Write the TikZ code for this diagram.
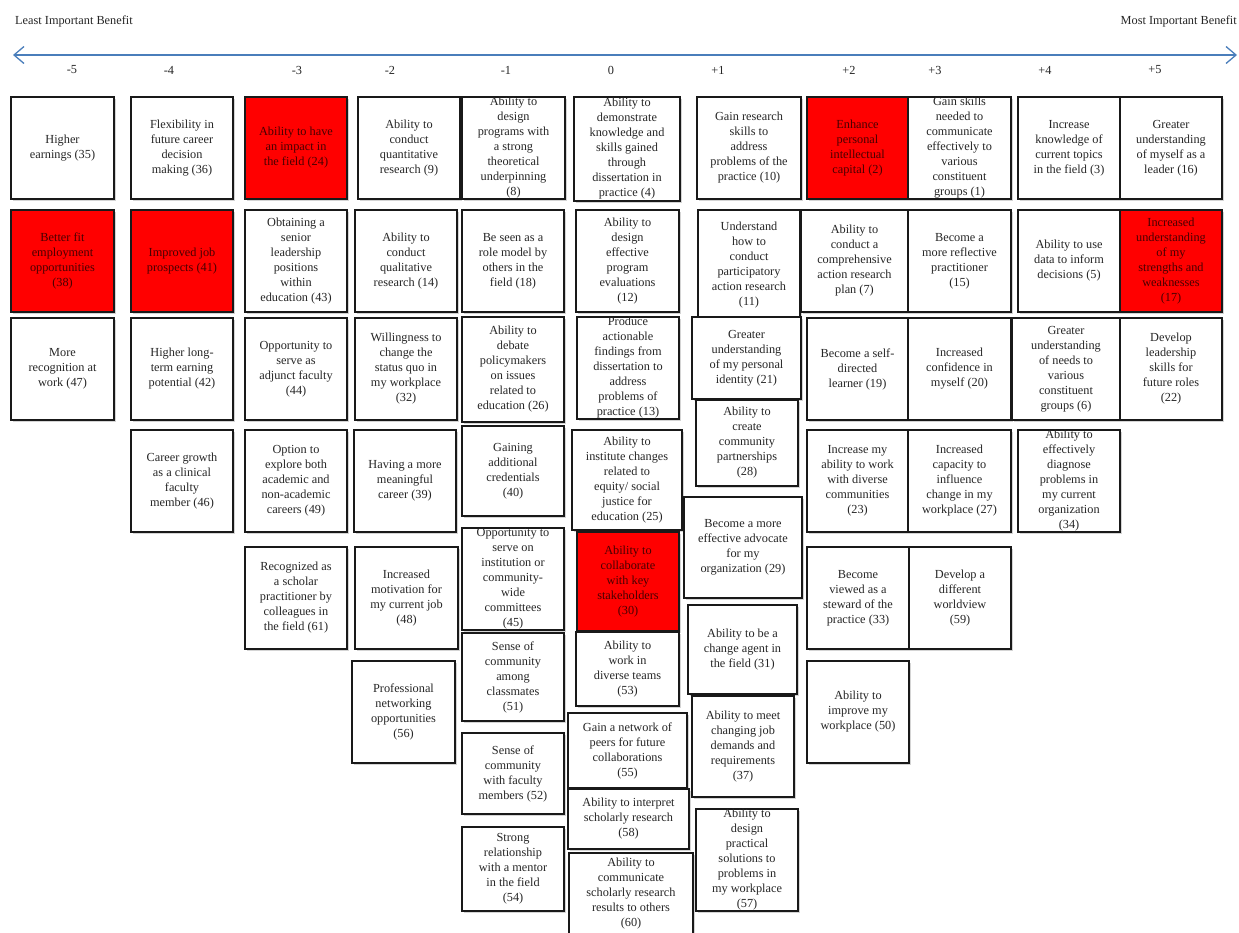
\documentclass[tikz,border=0pt]{standalone}
\usepackage{fontspec}
\setmainfont{Liberation Serif}
\usetikzlibrary{arrows.meta,shadows}

\definecolor{axisblue}{RGB}{74,126,187}
\definecolor{hotred}{RGB}{255,0,0}
\definecolor{deepred}{RGB}{72,0,0}

\tikzset{
  card/.style={draw=black!90, line width=1.2pt, inner sep=0pt, align=center,
    font=\fontsize{12.3}{15}\selectfont, text=black!85,
    drop shadow={shadow xshift=1.6pt, shadow yshift=-1.6pt, opacity=0.28, fill=black!60}},
  plain/.style={card, fill=white},
  hot/.style={card, fill=hotred, text=deepred},
  scalelbl/.style={font=\fontsize{12.3}{15}\selectfont, inner sep=0pt, text=black!85},
  axis/.style={draw=axisblue, line width=1.3pt,
    {Straight Barb[length=10pt,width=17pt,line width=1.3pt]}-{Straight Barb[length=10pt,width=17pt,line width=1.3pt]}}
}

% \card{name}{x1}{y1}{x2}{y2}{style}{text}: one ranked statement, corners in pixel units
\newcommand\card[7]{%
  \node[#6, minimum width={(#4-#2)*1pt}, minimum height={(#5-#3)*1pt}]
    (#1) at ({(#2+#4)/2},{(#3+#5)/2}) {#7};}

\begin{document}
\begin{tikzpicture}[x=1pt,y=-1pt]
\useasboundingbox (0,0) rectangle (1239,932);
\fill[white] (0,0) rectangle (1239,932);

% headings and ranking axis
\node[scalelbl, anchor=west] (least) at (15,21) {Least Important Benefit};
\node[scalelbl, anchor=east] (most) at (1237,21) {Most Important Benefit};
\coordinate (axL) at (13,55);
\coordinate (axR) at (1237,55);
\draw[axis] (axL) -- (axR);

\foreach \v/\x in {-5/72,-4/169,-3/297,-2/390,-1/506,0/611,+1/718,+2/849,+3/935,+4/1045,+5/1155}
  \node[scalelbl] (rank\v) at (\x,70) {\v};

\begin{scope}
% column -5
\card{s35}{11}{97}{114}{199}{plain}{Higher\\earnings (35)}
\card{s38}{11}{210}{114}{312}{hot}{Better fit\\employment\\opportunities\\(38)}
\card{s47}{11}{318}{114}{420}{plain}{More\\recognition at\\work (47)}
% column -4
\card{s36}{131}{97}{233}{199}{plain}{Flexibility in\\future career\\decision\\making (36)}
\card{s41}{131}{210}{233}{312}{hot}{Improved job\\prospects (41)}
\card{s42}{131}{318}{233}{420}{plain}{Higher long-\\term earning\\potential (42)}
\card{s46}{131}{430}{233}{532}{plain}{Career growth\\as a clinical\\faculty\\member (46)}
% column -3
\card{s24}{245}{97}{347}{199}{hot}{Ability to have\\an impact in\\the field (24)}
\card{s43}{245}{210}{347}{312}{plain}{Obtaining a\\senior\\leadership\\positions\\within\\education (43)}
\card{s44}{245}{318}{347}{420}{plain}{Opportunity to\\serve as\\adjunct faculty\\(44)}
\card{s49}{245}{430}{347}{532}{plain}{Option to\\explore both\\academic and\\non-academic\\careers (49)}
\card{s61}{245}{547}{347}{649}{plain}{Recognized as\\a scholar\\practitioner by\\colleagues in\\the field (61)}
% column -2
\card{s9}{358}{97}{460}{199}{plain}{Ability to\\conduct\\quantitative\\research (9)}
\card{s14}{355}{210}{457}{312}{plain}{Ability to\\conduct\\qualitative\\research (14)}
\card{s32}{355}{318}{457}{420}{plain}{Willingness to\\change the\\status quo in\\my workplace\\(32)}
\card{s39}{354}{430}{456}{532}{plain}{Having a more\\meaningful\\career (39)}
\card{s48}{355}{547}{458}{649}{plain}{Increased\\motivation for\\my current job\\(48)}
\card{s56}{352}{661}{455}{763}{plain}{Professional\\networking\\opportunities\\(56)}
% column -1
\card{s8}{462}{97}{565}{199}{plain}{Ability to\\design\\programs with\\a strong\\theoretical\\underpinning\\(8)}
\card{s18}{462}{210}{564}{312}{plain}{Be seen as a\\role model by\\others in the\\field (18)}
\card{s26}{462}{317}{564}{422}{plain}{Ability to\\debate\\policymakers\\on issues\\related to\\education (26)}
\card{s40}{462}{426}{564}{516}{plain}{Gaining\\additional\\credentials\\(40)}
\card{s45}{462}{528}{564}{630}{plain}{Opportunity to\\serve on\\institution or\\community-\\wide\\committees\\(45)}
\card{s51}{462}{633}{564}{721}{plain}{Sense of\\community\\among\\classmates\\(51)}
\card{s52}{462}{733}{564}{814}{plain}{Sense of\\community\\with faculty\\members (52)}
\card{s54}{462}{827}{564}{911}{plain}{Strong\\relationship\\with a mentor\\in the field\\(54)}
% column 0
\card{s4}{574}{97}{680}{201}{plain}{Ability to\\demonstrate\\knowledge and\\skills gained\\through\\dissertation in\\practice (4)}
\card{s12}{576}{210}{679}{312}{plain}{Ability to\\design\\effective\\program\\evaluations\\(12)}
\card{s13}{577}{317}{679}{419}{plain}{Produce\\actionable\\findings from\\dissertation to\\address\\problems of\\practice (13)}
\card{s25}{572}{430}{682}{530}{plain}{Ability to\\institute changes\\related to\\equity/ social\\justice for\\education (25)}
\card{s30}{577}{532}{679}{631}{hot}{Ability to\\collaborate\\with key\\stakeholders\\(30)}
\card{s53}{576}{632}{679}{706}{plain}{Ability to\\work in\\diverse teams\\(53)}
\card{s55}{568}{713}{687}{788}{plain}{Gain a network of\\peers for future\\collaborations\\(55)}
\card{s58}{568}{789}{689}{849}{plain}{Ability to interpret\\scholarly research\\(58)}
\card{s60}{569}{853}{693}{935}{plain}{Ability to\\communicate\\scholarly research\\results to others\\(60)}
% column +1
\card{s10}{697}{97}{801}{199}{plain}{Gain research\\skills to\\address\\problems of the\\practice (10)}
\card{s11}{698}{210}{800}{320}{plain}{Understand\\how to\\conduct\\participatory\\action research\\(11)}
\card{s21}{692}{317}{801}{399}{plain}{Greater\\understanding\\of my personal\\identity (21)}
\card{s28}{696}{400}{798}{486}{plain}{Ability to\\create\\community\\partnerships\\(28)}
\card{s29}{684}{497}{802}{598}{plain}{Become a more\\effective advocate\\for my\\organization (29)}
\card{s31}{688}{605}{797}{694}{plain}{Ability to be a\\change agent in\\the field (31)}
\card{s37}{692}{696}{794}{797}{plain}{Ability to meet\\changing job\\demands and\\requirements\\(37)}
\card{s57}{696}{809}{798}{911}{plain}{Ability to\\design\\practical\\solutions to\\problems in\\my workplace\\(57)}
% column +2
\card{s2}{807}{97}{908}{199}{hot}{Enhance\\personal\\intellectual\\capital (2)}
\card{s7}{801}{210}{908}{312}{plain}{Ability to\\conduct a\\comprehensive\\action research\\plan (7)}
\card{s19}{807}{318}{908}{420}{plain}{Become a self-\\directed\\learner (19)}
\card{s23}{807}{430}{908}{532}{plain}{Increase my\\ability to work\\with diverse\\communities\\(23)}
\card{s33}{807}{547}{909}{649}{plain}{Become\\viewed as a\\steward of the\\practice (33)}
\card{s50}{807}{661}{909}{763}{plain}{Ability to\\improve my\\workplace (50)}
% column +3
\card{s1}{908}{97}{1011}{199}{plain}{Gain skills\\needed to\\communicate\\effectively to\\various\\constituent\\groups (1)}
\card{s15}{908}{210}{1011}{312}{plain}{Become a\\more reflective\\practitioner\\(15)}
\card{s20}{908}{318}{1011}{420}{plain}{Increased\\confidence in\\myself (20)}
\card{s27}{908}{430}{1011}{532}{plain}{Increased\\capacity to\\influence\\change in my\\workplace (27)}
\card{s59}{909}{547}{1011}{649}{plain}{Develop a\\different\\worldview\\(59)}
% column +4
\card{s3}{1018}{97}{1120}{199}{plain}{Increase\\knowledge of\\current topics\\in the field (3)}
\card{s5}{1018}{210}{1120}{312}{plain}{Ability to use\\data to inform\\decisions (5)}
\card{s6}{1012}{318}{1120}{420}{plain}{Greater\\understanding\\of needs to\\various\\constituent\\groups (6)}
\card{s34}{1018}{430}{1120}{532}{plain}{Ability to\\effectively\\diagnose\\problems in\\my current\\organization\\(34)}
% column +5
\card{s16}{1120}{97}{1222}{199}{plain}{Greater\\understanding\\of myself as a\\leader (16)}
\card{s17}{1120}{210}{1222}{312}{hot}{Increased\\understanding\\of my\\strengths and\\weaknesses\\(17)}
\card{s22}{1120}{318}{1222}{420}{plain}{Develop\\leadership\\skills for\\future roles\\(22)}
\end{scope}
\end{tikzpicture}
\end{document}
